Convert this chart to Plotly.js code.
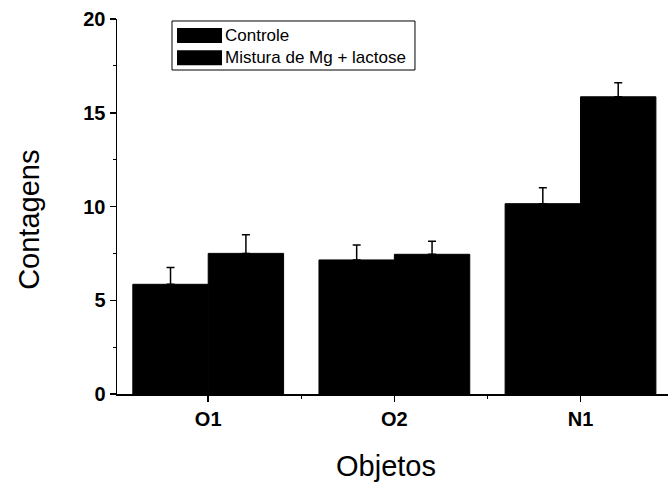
<!DOCTYPE html>
<html>
<head>
<meta charset="utf-8">
<script src="https://cdn.plot.ly/plotly-3.0.1.min.js"></script>
<style>html,body{margin:0;padding:0;background:#fff;}#chart{width:668px;height:492px;}</style>
</head>
<body>
<div id="chart"></div>
<script>
var categories = ["O1", "O2", "N1"];
var controleValues = [5.85, 7.15, 10.15];
var controleErrors = [0.9, 0.8, 0.85];
var misturaValues = [7.5, 7.45, 15.85];
var misturaErrors = [1.0, 0.7, 0.75];
var seriesNames = ["Controle", "Mistura de Mg + lactose"];
var yTicks = [0, 5, 10, 15, 20];
var xTitle = "Objetos";
var yTitle = "Contagens";

var xPos = categories.map(function (c, i) { return i; });
var errStyle = {type: "data", symmetric: false, color: "#000", thickness: 1.5, width: 4};

var traces = [
  {type: "bar", name: seriesNames[0], x: xPos, y: controleValues,
   marker: {color: "#000", line: {width: 1, color: "#000"}},
   error_y: Object.assign({array: controleErrors, arrayminus: [0,0,0]}, errStyle)},
  {type: "bar", name: seriesNames[1], x: xPos, y: misturaValues,
   marker: {color: "#000", line: {width: 1, color: "#000"}},
   error_y: Object.assign({array: misturaErrors, arrayminus: [0,0,0]}, errStyle)}
];

// legend drawn as box + swatches + labels (paper coordinates)
var legShapes = [
  {type: "rect", xref: "paper", yref: "paper", x0: 0.0998, x1: 0.5408, y0: 0.864, y1: 0.9947,
   line: {color: "#000", width: 1}, fillcolor: "#fff", layer: "above"},
  {type: "rect", xref: "paper", yref: "paper", x0: 0.1089, x1: 0.1906, y0: 0.936, y1: 0.976,
   line: {width: 0}, fillcolor: "#000", layer: "above"},
  {type: "rect", xref: "paper", yref: "paper", x0: 0.1089, x1: 0.1906, y0: 0.877, y1: 0.917,
   line: {width: 0}, fillcolor: "#000", layer: "above"}
];
var anns = [
  {xref: "paper", yref: "paper", x: 0.1925, y: 0.956, xanchor: "left", yanchor: "middle",
   text: seriesNames[0], showarrow: false, font: {size: 17, color: "#000"}},
  {xref: "paper", yref: "paper", x: 0.1925, y: 0.897, xanchor: "left", yanchor: "middle",
   text: seriesNames[1], showarrow: false, font: {size: 17, color: "#000"}},
  {xref: "paper", yref: "paper", x: 0.489, y: -0.193, xanchor: "center", yanchor: "middle",
   text: xTitle, showarrow: false, font: {size: 29, color: "#000"}},
  {xref: "paper", yref: "paper", x: -0.16, y: 0.464, xanchor: "center", yanchor: "middle",
   textangle: -90, text: yTitle, showarrow: false, font: {size: 29, color: "#000"}}
];

var layout = {
  width: 668, height: 492,
  margin: {l: 117, r: 0, t: 19, b: 98},
  paper_bgcolor: "#fff", plot_bgcolor: "#fff",
  font: {family: "Liberation Sans, Arial, sans-serif", color: "#000"},
  barmode: "group", bargap: 0.19, bargroupgap: 0,
  showlegend: false,
  shapes: legShapes,
  annotations: anns,
  xaxis: {
    range: [-0.49, 2.47],
    tickvals: xPos, ticktext: categories,
    showline: true, linecolor: "#000", linewidth: 1.5,
    ticks: "outside", ticklen: 6, tickwidth: 1.5, tickcolor: "#000",
    showgrid: false, zeroline: false,
    tickfont: {size: 20, color: "#000", weight: "bold"},
    minor: {tick0: 0.5, dtick: 1, ticks: "outside", ticklen: 3, tickwidth: 1, tickcolor: "#000", showgrid: false}
  },
  yaxis: {
    range: [0, 20], tickvals: yTicks,
    showline: true, linecolor: "#000", linewidth: 1.5,
    ticks: "outside", ticklen: 6, tickwidth: 1.5, tickcolor: "#000",
    showgrid: false, zeroline: false,
    tickfont: {size: 20, color: "#000", weight: "bold"},
    minor: {dtick: 2.5, ticks: "outside", ticklen: 3, tickwidth: 1, tickcolor: "#000", showgrid: false}
  }
};

Plotly.newPlot("chart", traces, layout, {displayModeBar: false, staticPlot: true});
</script>
</body>
</html>
